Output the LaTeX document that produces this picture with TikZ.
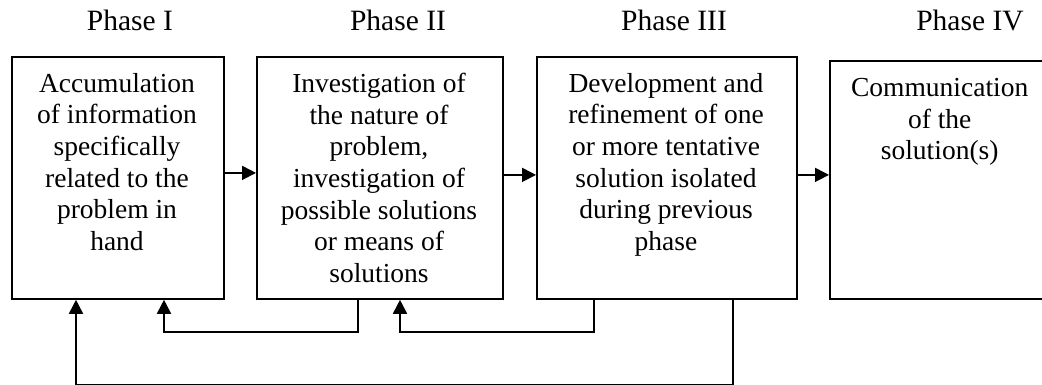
\documentclass[tikz,border=0pt]{standalone}
\usepackage{fontspec}
\setmainfont{Liberation Serif}
\usetikzlibrary{arrows.meta,calc}
\begin{document}
\begin{tikzpicture}[x=1pt,y=-1pt,
  box/.style={draw,line width=1.8pt,inner sep=0pt,anchor=north west},
  boxtext/.style={inner sep=0pt,anchor=north,align=center,
    font=\fontsize{27.5pt}{31.7pt}\selectfont},
  phase/.style={inner sep=0pt,anchor=base,font=\fontsize{29.5pt}{34pt}\selectfont},
  arr/.style={line width=1.8pt,-{Triangle[length=14pt,width=14pt]}},
  ln/.style={line width=1.8pt}]
\clip (0,0) rectangle (1042,385);
% boxes
\node[box,minimum width=212pt,minimum height=242pt] (b1) at (11,56) {};
\node[box,minimum width=246pt,minimum height=242pt] (b2) at (256,56) {};
\node[box,minimum width=260pt,minimum height=242pt] (b3) at (536,56) {};
\node[box,minimum width=221pt,minimum height=238pt] (b4) at (829,60) {};
% phase labels
\node[phase] (p1) at (130,31) {Phase I};
\node[phase] (p2) at (398,31) {Phase II};
\node[phase] (p3) at (674,31) {Phase III};
\node[phase] (p4) at (970,31) {Phase IV};
% texts
\node[boxtext] (t1) at (117,72.9) {Accumulation\\of information\\specifically\\related to the\\problem in\\hand};
\node[boxtext] (t2) at (379,72.9) {Investigation of\\the nature of\\problem,\\investigation of\\possible solutions\\or means of\\solutions};
\node[boxtext] (t3) at (666,72.9) {Development and\\refinement of one\\or more tentative\\solution isolated\\during previous\\phase};
\node[boxtext] (t4) at (939.7,77.9) {Communication\\of the\\solution(s)};
% forward arrows
\draw[arr] ([yshift=5pt]b1.east) -- ([yshift=5pt]b2.west);
\draw[arr] ([yshift=3pt]b2.east) -- ([yshift=3pt]b3.west);
\draw[arr] ([yshift=3pt]b3.east) -- ([yshift=5pt]b4.west);
% feedback
\draw[arr] ([xshift=102pt]b2.south west) -- ++(0,32) -| ([xshift=153pt]b1.south west);
\draw[arr] ([xshift=58pt]b3.south west) -- ++(0,32) -| ([xshift=144pt]b2.south west);
\draw[arr] ([xshift=197pt]b3.south west) -- ++(0,85) -| ([xshift=65pt]b1.south west);
\end{tikzpicture}
\end{document}
